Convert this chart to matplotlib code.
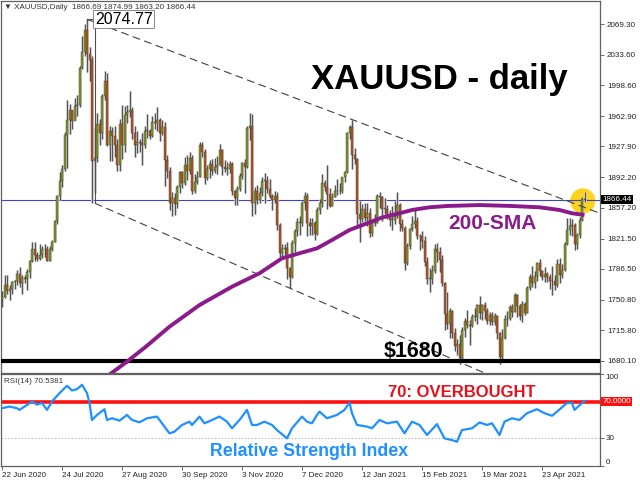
import matplotlib
matplotlib.use("Agg")
import matplotlib.pyplot as plt
import matplotlib.transforms as mtransforms
import numpy as np

# ---- data (one value per daily bar) ----
date_ticks = [0, 24, 48, 72, 96, 120, 144, 168, 192, 216]
date_labels = ['22 Jun 2020', '24 Jul 2020', '27 Aug 2020', '30 Sep 2020', '3 Nov 2020',
               '7 Dec 2020', '12 Jan 2021', '15 Feb 2021', '19 Mar 2021', '23 Apr 2021']

price_ticks = [1680.10, 1715.80, 1750.80, 1786.50, 1821.50, 1857.20,
               1892.20, 1927.90, 1962.90, 1998.60, 2033.60, 2069.30]

first_open = 1752.0
closes = [1754, 1768, 1761, 1763, 1771, 1772, 1781, 1770, 1776, 1775,
          1783, 1795, 1809, 1803, 1798, 1802, 1809, 1810, 1796, 1810,
          1818, 1842, 1871, 1888, 1902, 1941, 1958, 1970, 1957, 1975,
          1976, 2019, 2037, 2062, 2035, 2028, 1911, 1915, 1954, 1944,
          1986, 2003, 1929, 1946, 1940, 1929, 1907, 1954, 1929, 1964,
          1968, 1970, 1943, 1930, 1933, 1932, 1930, 1946, 1946, 1940,
          1956, 1955, 1959, 1944, 1950, 1912, 1900, 1863, 1868, 1861,
          1881, 1898, 1886, 1906, 1900, 1914, 1877, 1887, 1893, 1930,
          1922, 1891, 1902, 1908, 1899, 1904, 1907, 1924, 1904, 1902,
          1902, 1908, 1877, 1868, 1879, 1894, 1909, 1904, 1949, 1951,
          1862, 1877, 1866, 1874, 1888, 1888, 1879, 1871, 1866, 1871,
          1837, 1805, 1809, 1811, 1788, 1777, 1816, 1830, 1841, 1839,
          1863, 1871, 1839, 1836, 1840, 1827, 1855, 1863, 1886, 1881,
          1873, 1859, 1870, 1876, 1876, 1877, 1893, 1898,
          1943, 1950, 1918, 1913, 1850, 1844, 1856, 1845, 1851, 1828,
          1840, 1840, 1871, 1870, 1856, 1856, 1850, 1843, 1843, 1848,
          1860, 1838, 1834, 1793, 1813, 1832, 1838, 1842, 1825, 1824,
          1819, 1794, 1775, 1775, 1784, 1809, 1806, 1797, 1770, 1734,
          1723, 1738, 1712, 1697, 1700, 1683, 1716, 1726, 1722, 1720,
          1731, 1731, 1745, 1735, 1745, 1738, 1726, 1733, 1725, 1732,
          1712, 1685, 1707, 1728,
          1728, 1743, 1737, 1756, 1744, 1732, 1746, 1736, 1764, 1777,
          1770, 1778, 1793, 1784, 1777, 1780, 1777, 1773, 1772, 1768,
          1792, 1779, 1785, 1815, 1831, 1836, 1837, 1815, 1826, 1843,
          1866.69, 1866.44]
highs = [1761, 1779, 1779, 1768, 1773, 1774, 1785, 1789, 1779, 1779,
         1786, 1797, 1818, 1818, 1806, 1815, 1813, 1815, 1813, 1813,
         1820, 1843, 1872, 1898, 1906, 1945, 1981, 1977, 1970, 1984,
         1987, 2021, 2055, 2069, 2074.77, 2043, 2032, 1950, 1967, 1960,
         1989, 2015, 2013, 1952, 1950, 1951, 1937, 1960, 1976, 1975,
         1976, 1992, 1973, 1952, 1946, 1937, 1944, 1951, 1965, 1948,
         1963, 1966, 1973, 1961, 1959, 1956, 1918, 1904, 1875, 1874,
         1883, 1900, 1899, 1916, 1918, 1921, 1918, 1896, 1900, 1933,
         1933, 1925, 1907, 1912, 1913, 1915, 1917, 1931, 1925, 1912,
         1910, 1911, 1910, 1878, 1882, 1897, 1910, 1913, 1951, 1966,
         1965, 1881, 1883, 1881, 1893, 1897, 1894, 1890, 1873, 1876,
         1875, 1839, 1815, 1815, 1818, 1789, 1820, 1832, 1845, 1848,
         1865, 1875, 1874, 1845, 1845, 1842, 1858, 1867, 1896, 1889,
         1906, 1880, 1874, 1883, 1890, 1886, 1893, 1900,
         1945, 1953, 1959, 1926, 1915, 1865, 1861, 1863, 1863, 1857,
         1842, 1850, 1873, 1875, 1871, 1868, 1860, 1854, 1859, 1865,
         1875, 1863, 1844, 1836, 1816, 1834, 1848, 1855, 1846, 1827,
         1830, 1825, 1800, 1787, 1791, 1815, 1816, 1812, 1802, 1771,
         1760, 1741, 1739, 1718, 1705, 1710, 1719, 1730, 1739, 1727,
         1734, 1741, 1746, 1755, 1746, 1748, 1741, 1737, 1737, 1735,
         1733, 1714, 1717, 1733,
         1738, 1745, 1746, 1759, 1758, 1746, 1749, 1748, 1767, 1781,
         1790, 1784, 1794, 1798, 1785, 1789, 1783, 1781, 1790, 1779,
         1798, 1799, 1792, 1818, 1845, 1845, 1844, 1840, 1828, 1846,
         1869, 1874.99]
lows = [1742, 1753, 1757, 1751, 1758, 1763, 1768, 1765, 1758, 1770,
        1762, 1776, 1794, 1796, 1795, 1797, 1799, 1800, 1795, 1796,
        1807, 1817, 1838, 1866, 1881, 1900, 1903, 1942, 1948, 1958,
        1963, 1973, 2017, 2032, 2014, 2004, 1863, 1874, 1910, 1930,
        1937, 1982, 1928, 1911, 1911, 1916, 1900, 1900, 1913, 1922,
        1955, 1962, 1936, 1916, 1920, 1922, 1906, 1926, 1938, 1936,
        1939, 1948, 1946, 1934, 1941, 1882, 1892, 1855, 1848, 1849,
        1857, 1874, 1880, 1883, 1889, 1896, 1873, 1874, 1885, 1893,
        1916, 1884, 1889, 1892, 1895, 1897, 1896, 1906, 1895, 1898,
        1895, 1897, 1872, 1860, 1860, 1877, 1890, 1874, 1903, 1935,
        1848, 1850, 1861, 1862, 1871, 1862, 1874, 1868, 1855, 1862,
        1831, 1800, 1800, 1802, 1775, 1764, 1776, 1806, 1824, 1826,
        1836, 1855, 1825, 1826, 1826, 1820, 1826, 1850, 1858, 1876,
        1856, 1858, 1859, 1869, 1872, 1873, 1874, 1887,
        1897, 1936, 1902, 1908, 1835, 1817, 1841, 1842, 1836, 1823,
        1825, 1836, 1839, 1857, 1842, 1850, 1844, 1836, 1831, 1838,
        1845, 1830, 1830, 1785, 1791, 1810, 1830, 1834, 1821, 1808,
        1811, 1790, 1769, 1760, 1769, 1782, 1794, 1783, 1767, 1716,
        1717, 1707, 1707, 1692, 1687, 1677, 1682, 1708, 1718, 1699,
        1719, 1726, 1723, 1729, 1727, 1728, 1723, 1722, 1722, 1722,
        1705, 1677, 1681, 1706,
        1721, 1727, 1731, 1737, 1731, 1727, 1725, 1733, 1735, 1762,
        1765, 1764, 1773, 1778, 1774, 1771, 1771, 1763, 1756, 1762,
        1766, 1770, 1776, 1784, 1814, 1826, 1825, 1808, 1809, 1822,
        1842, 1863.20]

# 200-day SMA, read at points along the purple curve
sma_idx = [40, 44, 50, 58, 67, 79, 92, 103, 112, 119, 126, 132, 139,
           146, 152, 159, 164, 171, 178, 191, 204, 215, 223, 228, 233]
sma_vals = [1658, 1666.6, 1679.3, 1697.7, 1719.7, 1744.7, 1765.9, 1781.4, 1798.7,
            1804.5, 1810.2, 1819.8, 1831.4, 1839.1, 1845.8, 1850.7, 1854.5, 1857.6,
            1859.1, 1860.2, 1859.1, 1857.6, 1854.5, 1850.7, 1848.7]

# RSI(14)
rsi_idx = [0, 3, 6, 7, 9, 12, 14, 16, 18, 20,
           23, 26, 28, 30, 32, 34, 35, 36, 38, 41,
           42, 44, 47, 50, 52, 55, 58, 62, 64, 67,
           69, 72, 75, 76, 79, 81, 84, 87, 90, 92,
           95, 98, 100, 102, 105, 108, 110, 114, 116, 120,
           122, 124, 126, 127, 130, 134, 137, 139, 140, 142,
           146, 148, 151, 154, 158, 161, 164, 167, 170, 174,
           177, 180, 182, 184, 188, 191, 194, 196, 199, 201,
           204, 207, 210, 214, 217, 220, 222, 226, 228, 229,
           232, 233]
rsi_vals = [62.8, 64.6, 62.8, 61.0, 64.6, 70.0, 66.7, 68.5, 61.0, 70.0,
            79.2, 87.2, 82.1, 83.5, 88.3, 79.2, 68.5, 50.0, 55.5, 61.7,
            50.0, 51.9, 49.3, 55.5, 50.0, 47.5, 51.9, 53.7, 46.4, 35.5,
            37.3, 44.6, 48.2, 44.6, 53.7, 46.4, 50.0, 53.7, 48.2, 41.0,
            50.0, 61.0, 44.6, 44.6, 48.2, 44.6, 39.1, 30.0, 41.0, 53.7,
            48.2, 46.4, 55.5, 59.1, 51.9, 55.5, 61.0, 69.0, 57.4, 44.6,
            42.8, 41.0, 50.0, 46.4, 48.2, 35.5, 48.2, 44.6, 33.7, 45.5,
            30.0, 28.2, 26.4, 39.1, 41.0, 47.3, 44.6, 46.4, 33.7, 48.2,
            51.9, 50.0, 57.4, 61.7, 57.4, 54.6, 59.1, 68.5, 68.5, 61.0,
            68.5, 70.5]

# trend line anchors (bar index, price)
upper_pts = ([34, 140], [2074.77, 1959.0])
lower_pts = ([37.2, 187.2], [1862.2, 1673.5])

last_price = 1866.44
support = 1680.10

# ---- figure ----
LBL = 'Liberation Sans'
fig = plt.figure(figsize=(6.4, 4.8), dpi=100)
ax = fig.add_axes([1 / 640, 1 - 373 / 480, 599 / 640, 372 / 480])
ax2 = fig.add_axes([1 / 640, 1 - 466 / 480, 599 / 640, 92 / 480])

xmin, xmax = -0.4, 239.2
closes = np.array(closes, dtype=float)
highs = np.array(highs, dtype=float)
lows = np.array(lows, dtype=float)
opens = np.concatenate([[first_open], closes[:-1]])
idx = np.arange(len(closes))

up = closes >= opens
body_lo = np.minimum(opens, closes)
body_h = np.maximum(np.abs(closes - opens), 0.8)

# soft grey halo + dark wick, like the screenshot
ax.vlines(idx, lows, highs, color='#d4d4d4', lw=2.0, zorder=1.8)
ax.vlines(idx, lows, highs, color='#555555', lw=0.8, zorder=2)
ax.bar(idx, body_h, bottom=body_lo, width=0.8,
       color=np.where(up, '#82991f', '#c0531d'), edgecolor='#3a3a3a', lw=0.3, zorder=3)

# highlight circle on the last bar
ax.scatter([idx[-1] - 0.7], [closes[-1] - 1.5], s=330, color='#FFD21F', edgecolors='none', zorder=1)

ax.axhline(last_price, color='#3c44c0', lw=0.8, zorder=1.5)
ax.axhline(support, color='black', lw=3.0, zorder=4)
ax.plot(sma_idx, sma_vals, color='#8b1a8b', lw=2.8, zorder=4, solid_capstyle='butt')

# trend lines
ux, uy = upper_pts
us = (uy[1] - uy[0]) / (ux[1] - ux[0])
ax.plot([ux[0], xmax], [uy[0], uy[0] + us * (xmax - ux[0])], color='#404040', lw=0.8,
        dashes=(7, 4), zorder=3.5)
lx, ly = lower_pts
ls = (ly[1] - ly[0]) / (lx[1] - lx[0])
ax.plot([lx[0], xmax], [ly[0], ly[0] + ls * (xmax - lx[0])], color='#404040', lw=0.8,
        dashes=(7, 4), zorder=3.5)
ax.plot([ux[0], lx[0], lx[0]], [uy[0], uy[0], ly[0]], color='#505050', lw=0.8, zorder=3.5)
ax.text(lx[0], uy[0], '2074.77', ha='left', va='center', fontsize=11.5, family=LBL,
        bbox=dict(boxstyle='square,pad=0.1', fc='white', ec='#777777', lw=0.6), zorder=6)

ax.set_xlim(xmin, xmax)
ax.set_ylim(1666.2, 2095.9)
ax.set_xticks([])
ax.yaxis.tick_right()
ax.set_yticks(price_ticks)
ax.set_yticklabels(['%.2f' % p for p in price_ticks])
ax.tick_params(axis='y', direction='out', length=3, width=0.6, pad=2,
               labelsize=5.8, colors='#555555', labelcolor='#222222')
for lbl in ax.get_yticklabels():
    lbl.set_family(LBL)

trans = mtransforms.blended_transform_factory(ax.transAxes, ax.transData)
ax.text(1.004, last_price, '1866.44', transform=trans, ha='left', va='center', fontsize=5.8,
        family=LBL, color='white', bbox=dict(boxstyle='square,pad=0.15', fc='black', ec='none'),
        clip_on=False, zorder=7)

ax.text(0.005, 0.9825, '\u25bc XAUUSD,Daily  1866.69 1874.99 1863.20 1866.44', transform=ax.transAxes,
        ha='left', va='center', fontsize=5.8, family=[LBL, 'DejaVu Sans'], color='#333333')

ax.text(0.7312, 0.7626, 'XAUUSD - daily', transform=ax.transAxes, ha='center', va='baseline',
        fontsize=25, fontweight='bold', family=LBL, color='black')
ax.text(0.8205, 0.3863, '200-SMA', transform=ax.transAxes, ha='center', va='baseline',
        fontsize=15, fontweight='bold', family=LBL, color='#8b1a8b', zorder=6)
ax.text(0.6895, 0.0438, '$1680', transform=ax.transAxes, ha='center', va='baseline',
        fontsize=15.5, fontweight='bold', family=LBL, color='black', zorder=6)

# ---- RSI panel ----
ax2.axhline(70, color='#ff1010', lw=2.6, zorder=2)
ax2.axhline(30, color='#b0b0b0', lw=0.6, dashes=(2, 2), zorder=1)
ax2.plot(rsi_idx, rsi_vals, color='#1e90ff', lw=1.6, zorder=3)
ax2.set_xlim(xmin, xmax)
ax2.set_ylim(0, 100)
ax2.yaxis.tick_right()
ax2.set_yticks([0, 30, 70, 100])
ax2.set_yticklabels([])
ax2.tick_params(axis='y', direction='out', length=3, width=0.6, colors='#555555')
ax2.set_xticks(date_ticks)
ax2.set_xticklabels(date_labels, ha='left')
ax2.tick_params(axis='x', direction='out', length=3, width=0.6, pad=1.5,
                labelsize=5.8, colors='#555555', labelcolor='#222222')
for lbl in ax2.get_xticklabels():
    lbl.set_family(LBL)

trans2 = mtransforms.blended_transform_factory(ax2.transAxes, ax2.transData)
for v, s, va in [(100, '100', 'top'), (30, '30', 'center'), (0, '0', 'bottom')]:
    ax2.text(1.009, v, s, transform=trans2, ha='left', va=va, fontsize=5.8, family=LBL,
             color='#222222', clip_on=False)
ax2.text(1.004, 70, '70.0000', transform=trans2, ha='left', va='center', fontsize=5.8, family=LBL,
         color='white', bbox=dict(boxstyle='square,pad=0.15', fc='#ff1010', ec='none'), clip_on=False)

ax2.text(0.005, 0.916, 'RSI(14) 70.5381', transform=ax2.transAxes, ha='left', va='center',
         fontsize=5.8, family=LBL, color='#333333')
ax2.text(0.7688, 0.7467, '70: OVERBOUGHT', transform=ax2.transAxes, ha='center', va='baseline',
         fontsize=12, fontweight='bold', family=LBL, color='#e8101a', zorder=5)
ax2.text(0.515, 0.112, 'Relative Strength Index', transform=ax2.transAxes, ha='center',
         va='baseline', fontsize=12.8, fontweight='bold', family=LBL, color='#1e90ff', zorder=5)

for a in (ax, ax2):
    for sp in a.spines.values():
        sp.set_color('#606060')
        sp.set_linewidth(0.9)

fig.savefig('out.png', dpi=100, facecolor='white')
